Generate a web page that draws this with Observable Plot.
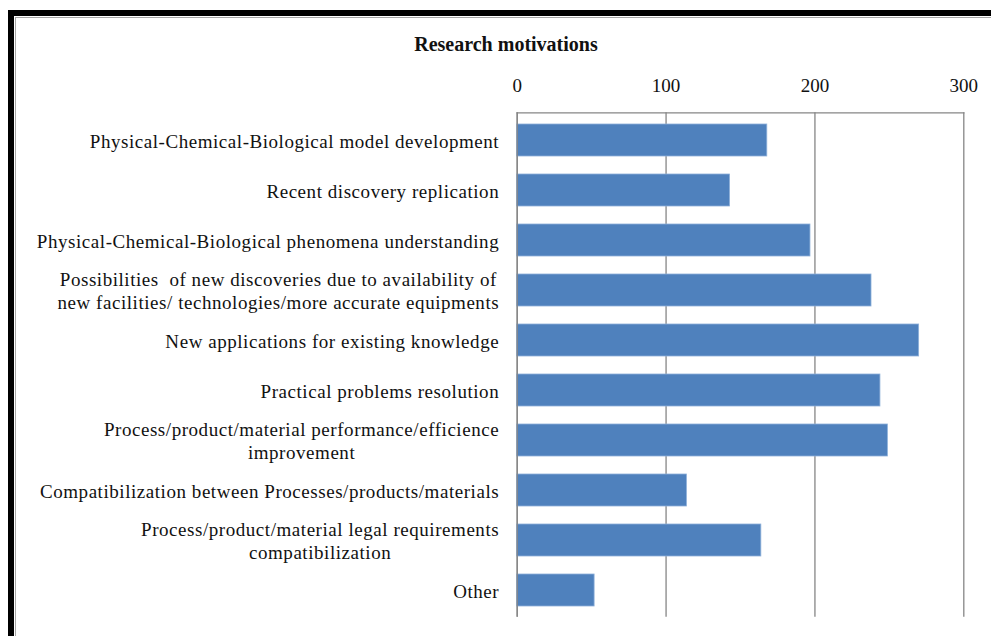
<!DOCTYPE html>
<html>
<head>
<meta charset="utf-8">
<script src="https://cdn.jsdelivr.net/npm/d3@7"></script>
<script src="https://cdn.jsdelivr.net/npm/@observablehq/plot@0.6"></script>
<style>
  html, body { margin: 0; padding: 0; background: #fff; width: 991px; height: 636px; overflow: hidden; }
  #border { position: absolute; left: 8px; top: 10px; right: 0; bottom: 0; border-left: 6px solid #000; border-top: 6px solid #000; }
  #inner { position: absolute; left: 1px; top: 1px; right: 0; bottom: 0; border-left: 1px solid #a6a6a6; border-top: 1px solid #a6a6a6; }
  #title { position: absolute; left: 506px; top: 34px; transform: translateX(-50%); white-space: nowrap;
           font-family: "Liberation Serif", serif; font-weight: bold; font-size: 20px; line-height: 1; color: #111; }
  #chart { position: absolute; left: 0; top: 60px; }
</style>
</head>
<body>
<div id="border"><div id="inner"></div></div>
<div id="title">Research motivations</div>
<div id="chart"></div>
<script>
const categories = [
  "Physical-Chemical-Biological model development",
  "Recent discovery replication",
  "Physical-Chemical-Biological phenomena understanding",
  "Possibilities  of new discoveries due to availability of\nnew facilities/ technologies/more accurate equipments",
  "New applications for existing knowledge",
  "Practical problems resolution",
  "Process/product/material performance/efficience\nimprovement",
  "Compatibilization between Processes/products/materials",
  "Process/product/material legal requirements\ncompatibilization",
  "Other"
];
const values = [168, 143, 197, 238, 270, 244, 249, 114, 164, 52];
const xTicks = [0, 100, 200, 300];

const data = categories.map((c, i) => ({category: c, value: values[i]}));

const plot = Plot.plot({
  width: 991,
  height: 576,
  marginTop: 52.3,
  marginBottom: 19.3,
  marginLeft: 516.7,
  marginRight: 27.7,
  style: {fontFamily: "Liberation Serif", fontSize: "19px", color: "#111", background: "none", overflow: "visible"},
  x: {domain: [0, 300], ticks: xTicks},
  y: {domain: categories, paddingInner: 0.36, paddingOuter: 0.18},
  marks: [
    Plot.gridX(xTicks, {stroke: "#868686", strokeOpacity: 1, strokeWidth: 1.3}),
    Plot.barX(data, {x: "value", y: "category", fill: "#4F81BD", stroke: "#8eb0d9", strokeWidth: 0.8}),
    Plot.ruleX([0], {stroke: "#868686", strokeWidth: 1.3}),
    Plot.frame({anchor: "top", stroke: "#868686", strokeWidth: 1.3}),
    Plot.axisX({anchor: "top", ticks: xTicks, tickSize: 0, tickPadding: 21, label: null, fontSize: 19}),
    Plot.axisY({anchor: "left", tickSize: 0, tickPadding: 18, label: null, lineHeight: 1.2, fontSize: 19})
  ]
});
document.getElementById("chart").appendChild(plot);

// category labels: slight letter spacing; multi-line labels centred as blocks, right-aligned to the axis
plot.querySelectorAll('g[aria-label="y-axis tick label"] text').forEach(t => {
  t.setAttribute("letter-spacing", "0.55");
  const spans = t.querySelectorAll("tspan");
  if (spans.length > 1) {
    let w = 0;
    spans.forEach(s => { w = Math.max(w, s.getComputedTextLength()); });
    t.setAttribute("text-anchor", "middle");
    const tr = t.getAttribute("transform") || "";
    t.setAttribute("transform", tr + ` translate(${-w / 2},0)`);
  }
});
</script>
</body>
</html>
